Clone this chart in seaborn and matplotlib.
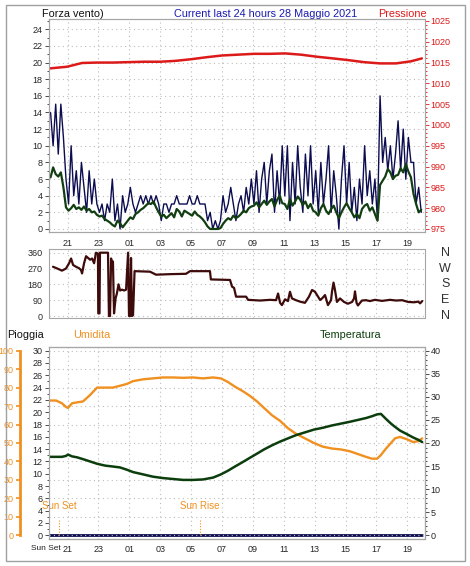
import numpy as np
import pandas as pd
import matplotlib
matplotlib.use("Agg")
import matplotlib.pyplot as plt
import matplotlib.transforms as mtransforms
import seaborn as sns
from matplotlib.ticker import MultipleLocator, FuncFormatter
from matplotlib.patches import Rectangle

# Wind speed, one reading every 10 minutes starting 19:54 (hours since midnight of the 27th)
wind_start = 19.9
wind_gust = [14, 10, 15, 9, 15,
             11,
             6, 3, 10, 4, 7, 3, 8, 5, 2, 7, 3, 6,
             3, 2, 3, 1, 3, 2,
             6, 1, 3, 0, 4, 2,
             3, 5, 3, 2, 3, 4,
             3, 4, 3, 4, 3, 4,
             3, 1, 3, 3, 2, 3,
             3, 4, 3, 3, 3, 3,
             4, 3, 3, 4, 3, 3, 3,
             1, 2, 0, 1, 0, 1,
             4, 2, 3, 5, 3, 1, 3,
             4, 2, 5, 3, 6,
             3, 7, 2, 6, 8, 3, 7,
             9, 2, 7, 3, 10, 4, 10, 1, 8, 3, 10, 5,
             2, 9, 4, 10, 3, 7, 2, 8, 3, 6, 10, 2, 7, 4,
             0, 6,
             10, 3, 8, 2, 5, 1, 6, 3, 10, 4, 7, 3, 6, 1,
             16, 8, 11, 7, 10, 6, 9,
             13, 7, 12, 6, 11, 8,
             8, 3, 5, 2]
wind_avg = [6.2, 7.4, 6.6, 6.3, 6.8,
            5.0,
            2.6, 2.2, 2.5, 2.9, 2.4, 2.6, 2.3, 2.7, 2.2, 2.4, 2.0, 2.1,
            1.7, 1.5, 1.6, 1.2, 1.0, 0.8,
            0.5, 0.3, 1.0, 0.7, 0.2, 0.6,
            1.0, 1.4, 1.2, 1.8, 2.0, 2.3,
            2.5, 2.8, 3.1, 3.0, 3.3, 2.6,
            2.0, 1.5, 1.7, 1.3, 1.6, 1.9,
            1.4, 2.4, 2.1, 1.5, 2.2, 2.0,
            1.8, 1.6, 2.1, 1.7, 1.5, 1.2, 0.8,
            0.3, 0.0, 0.0, 0.0, 0.0, 0.1,
            0.6, 1.0, 1.3, 1.1, 1.6, 1.3, 1.5,
            1.8, 2.2, 2.0, 2.5, 2.7,
            2.8, 3.2, 2.6, 3.0, 3.4, 2.9, 3.3,
            3.6, 2.7, 3.5, 4.0, 3.1, 3.0, 2.4, 3.6, 2.8, 3.3, 3.9, 3.5,
            2.9, 3.3, 2.5, 3.0, 2.2, 2.0, 1.6, 2.5, 3.0, 2.2, 1.8, 2.4, 2.8, 2.0,
            1.3, 2.0,
            2.6, 3.1, 2.5, 2.0, 1.4, 1.8, 1.3, 2.4, 2.8, 3.0, 2.2, 2.6, 1.8, 1.0,
            5.3, 5.8, 6.3, 7.2, 6.8, 6.0, 6.4,
            6.5, 7.3, 6.8, 7.8, 6.9, 6.2,
            4.2, 3.0, 2.0, 2.3]

pressure_hours = [19.87, 20.97, 21.94, 22.91, 23.94, 24.92, 25.95, 26.99, 27.96,
                  28.99, 30.03, 31.0, 32.03, 33.07, 34.11, 35.08, 36.11, 37.15,
                  38.18, 39.15, 40.19, 41.23, 42.26, 43.23, 43.94]
pressure_hpa = [1013.6, 1014.0, 1014.9, 1015.0, 1015.0, 1015.1, 1015.2, 1015.2, 1015.4,
                1015.8, 1016.3, 1016.7, 1016.9, 1017.1, 1017.1, 1017.2, 1016.9, 1016.4,
                1016.0, 1015.6, 1015.1, 1014.8, 1014.8, 1015.3, 1016.0]

dir_hours = [20.06, 20.39, 20.64, 20.90, 21.10, 21.23, 21.36, 21.55, 21.74, 21.87,
             21.94, 22.07, 22.20, 22.33, 22.46, 22.59, 22.72, 22.84, 22.97, 22.99,
             23.07, 23.10, 23.62, 23.68, 23.75, 23.82, 23.88, 23.94, 24.01, 24.11,
             24.20, 24.30, 24.40, 24.53, 24.66, 24.79, 24.92, 24.98, 25.05, 25.11,
             25.17, 25.24, 25.34, 26.34, 26.73, 27.64, 28.67, 28.93, 30.22, 30.28,
             31.52, 31.65, 31.78, 31.91, 32.56, 32.69, 33.46, 34.11, 34.50, 34.63,
             34.76, 34.88, 35.08, 35.27, 35.40, 35.53, 35.79, 36.04, 36.37, 36.63,
             36.83, 37.02, 37.22, 37.35, 37.48, 37.67, 37.86, 38.06, 38.12, 38.22,
             38.31, 38.44, 38.64, 38.90, 39.16, 39.42, 39.55, 39.61, 39.71, 39.80,
             40.06, 40.32, 40.58, 40.90, 41.36, 41.88, 42.27, 42.66, 43.05, 43.44,
             43.70, 43.83, 43.96]
dir_deg = [280, 268, 258, 270, 300, 327, 290, 280, 272, 262,
           242, 300, 340, 330, 320, 327, 300, 360, 355, 15,
           15, 360, 360, 0, 0, 327, 300, 310, 15, 100,
           130, 180, 145, 150, 145, 150, 360, 0, 0, 330,
           0, 5, 255, 252, 235, 238, 240, 255, 255, 208,
           205, 167, 160, 110, 110, 92, 88, 92, 90, 128,
           75, 62, 95, 85, 138, 100, 90, 82, 75, 110,
           148, 138, 110, 91, 100, 119, 62, 90, 138, 190,
           150, 80, 100, 80, 70, 80, 100, 140, 75, 60,
           88, 90, 85, 92, 86, 92, 88, 90, 80, 78,
           82, 72, 85]

env_hours = [19.87, 20.26, 20.64, 20.90, 21.03, 21.29, 21.61, 22.0, 22.46, 22.91,
             23.43, 23.94, 24.40, 24.85, 25.24, 25.89, 26.53, 27.18, 27.83, 28.48,
             29.12, 29.77, 30.42, 30.93, 31.39, 31.84, 32.36, 32.81, 33.27, 33.72,
             34.24, 34.76, 35.27, 35.79, 36.37, 36.95, 37.53, 38.12, 38.70, 39.28,
             39.80, 40.32, 40.71, 41.04, 41.29, 41.62, 41.94, 42.20, 42.52, 42.98,
             43.37, 43.70, 43.96]
humidity = [73, 73, 71.5, 69.5, 69, 71.5, 72, 72.5, 76, 80,
            80, 80, 81, 82, 83.5, 84.5, 85, 85.5, 85.5, 85.3,
            85.5, 85.0, 85.5, 85, 83, 80.5, 78, 75.5, 72.5, 69,
            65, 62, 58, 55, 52.5, 50, 48, 47, 46.5, 45.5,
            44, 42.5, 41.5, 41.5, 43.5, 47, 50, 52.5, 53.3, 52,
            50.5, 51, 52.5]
temperature = [17.0, 17.0, 17.0, 17.2, 17.5, 17.1, 16.9, 16.5, 16.0, 15.5,
               15.1, 14.9, 14.7, 14.2, 13.7, 13.2, 12.7, 12.4, 12.2, 12.0,
               12.0, 12.1, 12.5, 13.2, 14.0, 14.9, 15.9, 16.8, 17.7, 18.6,
               19.5, 20.3, 21.0, 21.7, 22.3, 22.9, 23.3, 23.8, 24.2, 24.6,
               25.0, 25.4, 25.8, 26.2, 26.3, 25.2, 24.2, 23.5, 22.7, 21.9,
               21.2, 20.7, 20.2]

rain_hours = [19.87, 43.96]
rain_mm = [0.0, 0.0]

sunset_hour = 20.45
sunrise_hour = 29.56

hour_ticks = [21, 23, 25, 27, 29, 31, 33, 35, 37, 39, 41, 43]
compass = ["N", "W", "S", "E", "N"]
compass_deg = [360, 270, 180, 90, 0]

NAVY = "#0c0c50"
GREEN = "#123f12"
RED = "#dc1a1a"
MAROON = "#3e0b0b"
ORANGE = "#f09020"
TEMP = "#0c3d0c"
GRID = "#bdbdbd"
FRAME = "#a6a6a6"

sns.set_style("white")
plt.rcParams["font.family"] = ["Liberation Sans", "DejaVu Sans"]

W_PX, H_PX = 470, 566
fig = plt.figure(figsize=(W_PX / 100, H_PX / 100), dpi=100)

XMIN, XMAX = 19.80, 44.11
L = 49 / W_PX
AW = (424.5 - 49) / W_PX

hour_fmt = FuncFormatter(lambda h, pos: f"{int(round(h)) % 24:02d}")


def style(ax):
    for s in ax.spines.values():
        s.set_color(FRAME)
        s.set_linewidth(0.8)
    ax.tick_params(which="major", labelsize=6.5, length=3, width=0.6, pad=1.5, color="#303030")
    ax.tick_params(which="minor", length=1.6, width=0.6, color="#303030")
    ax.set_xlim(XMIN, XMAX)
    ax.set_xlabel("")
    ax.set_ylabel("")


def frac_y(px):
    return 1 - px / H_PX


wind = pd.DataFrame({
    "hour": wind_start + np.arange(len(wind_gust)) / 6,
    "gust": wind_gust,
    "avg": wind_avg,
})

# ---- top panel: wind speed + pressure
ax1 = fig.add_axes([L, frac_y(232.3), AW, (232.3 - 19.3) / H_PX])
sns.lineplot(data=wind, x="hour", y="gust", ax=ax1, color=NAVY, linewidth=1.0, estimator=None)
sns.lineplot(data=wind, x="hour", y="avg", ax=ax1, color=GREEN, linewidth=1.6, estimator=None)
style(ax1)
ax1.set_ylim(-0.4, 25.2)
ax1.yaxis.set_major_locator(MultipleLocator(2))
ax1.yaxis.set_minor_locator(MultipleLocator(1))
ax1.set_xticks(hour_ticks)
ax1.xaxis.set_minor_locator(MultipleLocator(0.5))
ax1.xaxis.set_major_formatter(hour_fmt)
ax1.grid(True, which="major", color=GRID, linestyle=(0, (1, 3)), linewidth=0.8)

ax1p = ax1.twinx()
sns.lineplot(x=pressure_hours, y=pressure_hpa, ax=ax1p, color=RED, linewidth=1.8, estimator=None)
style(ax1p)
ax1p.set_ylim(974.2, 1025.4)
ax1p.yaxis.set_major_locator(MultipleLocator(5))
ax1p.yaxis.set_minor_locator(MultipleLocator(1))
ax1p.tick_params(axis="y", which="both", colors=RED)

# ---- middle panel: wind direction
ax2 = fig.add_axes([L, frac_y(318.3), AW, (318.3 - 249) / H_PX])
sns.lineplot(x=dir_hours, y=dir_deg, ax=ax2, color=MAROON, linewidth=1.6, estimator=None)
style(ax2)
ax2.set_ylim(-13, 381)
ax2.set_yticks([0, 90, 180, 270, 360])
ax2.yaxis.set_minor_locator(MultipleLocator(30))
ax2.set_xticks(hour_ticks)
ax2.tick_params(axis="x", which="both", length=0, labelbottom=False)
ax2.grid(True, which="major", color=GRID, linestyle=(0, (1, 3)), linewidth=0.8)
side = mtransforms.blended_transform_factory(ax2.transAxes, ax2.transData)
for deg, lab in zip(compass_deg, compass):
    ax2.text(1.055, deg, lab, transform=side, ha="center", va="center",
             fontsize=9, color="#303030")

# ---- bottom panel: rain, humidity, temperature
ax3 = fig.add_axes([L, frac_y(538.5), AW, (538.5 - 347.3) / H_PX])
sns.lineplot(x=rain_hours, y=rain_mm, ax=ax3, color=NAVY, linewidth=2.0, estimator=None)
style(ax3)
ax3.set_ylim(-0.52, 30.55)
ax3.yaxis.set_major_locator(MultipleLocator(2))
ax3.yaxis.set_minor_locator(MultipleLocator(1))
ax3.set_xticks(hour_ticks)
ax3.xaxis.set_minor_locator(MultipleLocator(0.5))
ax3.xaxis.set_major_formatter(hour_fmt)
ax3.grid(True, axis="x", which="major", color=GRID, linestyle=(0, (1, 3)), linewidth=0.8)

ax3h = ax3.twinx()
sns.lineplot(x=env_hours, y=humidity, ax=ax3h, color=ORANGE, linewidth=1.7, estimator=None)
style(ax3h)
ax3h.set_ylim(-0.52 * 10 / 3, 30.55 * 10 / 3)
ax3h.yaxis.set_ticks_position("left")
ax3h.yaxis.set_label_position("left")
ax3h.spines["left"].set_visible(True)
ax3h.spines["left"].set_position(("outward", 21))
ax3h.spines["left"].set_color(ORANGE)
ax3h.spines["left"].set_linewidth(2)
ax3h.spines["left"].set_bounds(0, 100)
ax3h.yaxis.set_major_locator(MultipleLocator(10))
ax3h.tick_params(axis="y", colors=ORANGE, width=1.2)
ax3h.grid(True, axis="y", which="major", color=GRID, linestyle=(0, (1, 3)), linewidth=0.8)

ax3t = ax3.twinx()
sns.lineplot(x=env_hours, y=temperature, ax=ax3t, color=TEMP, linewidth=1.8, estimator=None)
style(ax3t)
ax3t.set_ylim(-0.52 * 4 / 3, 30.55 * 4 / 3)
ax3t.yaxis.set_major_locator(MultipleLocator(5))
ax3t.yaxis.set_minor_locator(MultipleLocator(1))

for hr, lab in [(sunset_hour, "Sun Set"), (sunrise_hour, "Sun Rise")]:
    ax3.axvline(hr, ymin=0.017, ymax=0.1, color=ORANGE, linestyle=(0, (1, 1.5)), linewidth=0.8)
    ax3.text(hr, 4.8, lab, ha="center", va="center", fontsize=7, color=ORANGE)

# ---- titles and labels
fig.text(42 / W_PX, frac_y(14), "Forza vento)", fontsize=7.8, va="center", ha="left", color="#101010")
fig.text(266 / W_PX, frac_y(14), "Current last 24 hours 28 Maggio 2021", fontsize=7.8,
         va="center", ha="center", color="#1a1ab0")
fig.text(378 / W_PX, frac_y(14), "Pressione", fontsize=7.8, va="center", ha="left", color=RED)
fig.text(7 / W_PX, frac_y(335), "Pioggia", fontsize=7.8, va="center", ha="left", color="#101010")
fig.text(73 / W_PX, frac_y(335), "Umidita", fontsize=7.8, va="center", ha="left", color=ORANGE)
fig.text(320 / W_PX, frac_y(335), "Temperatura", fontsize=7.8, va="center", ha="left", color=TEMP)
fig.text(61 / W_PX, frac_y(549), "Sun Set", fontsize=6, va="center", ha="right", color="#202020")

fig.add_artist(Rectangle((6 / W_PX, frac_y(561)), (465 - 6) / W_PX, (561 - 5) / H_PX,
                         transform=fig.transFigure, fill=False, edgecolor="#a0a0a0", linewidth=1))

fig.savefig("out.png", dpi=100)
